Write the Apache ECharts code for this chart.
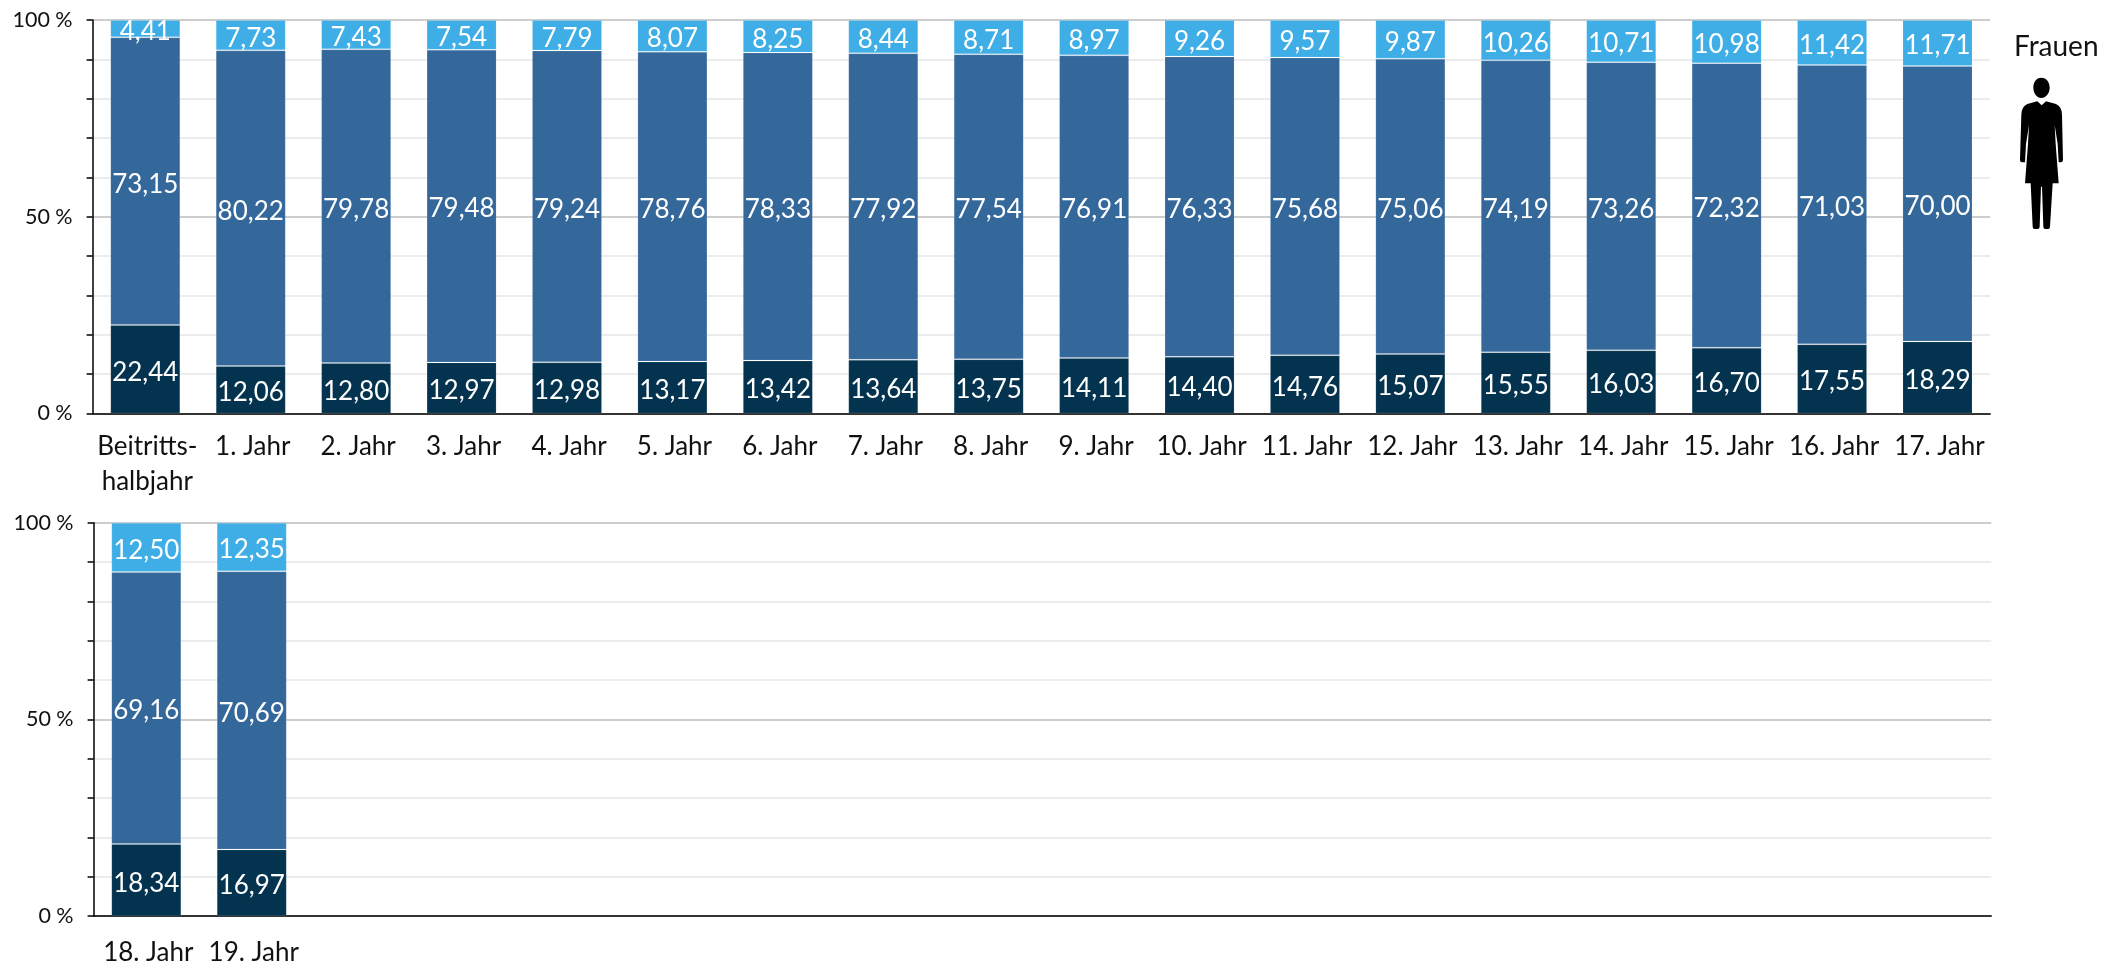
<!DOCTYPE html>
<html><head><meta charset="utf-8">
<style>html,body{margin:0;padding:0;background:#fff}#c{width:2105px;height:964px}</style>
<script src="https://cdn.jsdelivr.net/npm/echarts@6/dist/echarts.min.js"></script>
</head><body><div id="c"></div>
<script>
const categoriesTop = ['Beitritts-\nhalbjahr','1. Jahr','2. Jahr','3. Jahr','4. Jahr','5. Jahr','6. Jahr','7. Jahr','8. Jahr','9. Jahr','10. Jahr','11. Jahr','12. Jahr','13. Jahr','14. Jahr','15. Jahr','16. Jahr','17. Jahr'];
const darkTop = [22.44,12.06,12.80,12.97,12.98,13.17,13.42,13.64,13.75,14.11,14.40,14.76,15.07,15.55,16.03,16.70,17.55,18.29];
const midTop = [73.15,80.22,79.78,79.48,79.24,78.76,78.33,77.92,77.54,76.91,76.33,75.68,75.06,74.19,73.26,72.32,71.03,70.00];
const lightTop = [4.41,7.73,7.43,7.54,7.79,8.07,8.25,8.44,8.71,8.97,9.26,9.57,9.87,10.26,10.71,10.98,11.42,11.71];
const categoriesBottom = ['18. Jahr','19. Jahr','','','','','','','','','','','','','','','',''];
const darkBottom = [18.34,16.97];
const midBottom = [69.16,70.69];
const lightBottom = [12.50,12.35];

const FONT = 'Lato';
const COLORS = ['#04334f','#34689b','#3faee6'];
const figure = 'M424 233C440 233 449 247 449 263C449 280 437 294 424 294C411 294 400 280 400 263C400 247 408 233 424 233Z'+
 'M412 304L425 316L438 304L468 312Q486 320 486 345L489 480Q489 487 482 487L476 487L473 432L464 375L467 432L476 550L458 550L450 680Q450 687 442 687L436 687Q430 687 430 680L426 560L423 560L419 680Q419 687 412 687L404 687Q398 687 398 680L392 550L375 550L384 432L387 375L378 432L375 487L366 487Q360 487 360 480L364 345Q364 320 382 312Z';
echarts.graphic.registerShape('womanFigure', echarts.graphic.extendPath(figure, {}));

const chart = echarts.init(document.getElementById('c'), null, {renderer:'canvas'});

function yAxis(gridIndex){
  return {
    type:'value', gridIndex, min:0, max:100, interval:50,
    axisLine:{show:true,onZero:false,lineStyle:{color:'#000',width:1.5}},
    axisTick:{show:true,length:6,lineStyle:{color:'#000',width:1.5}},
    minorTick:{show:true,splitNumber:5,length:6,lineStyle:{color:'#000',width:1.5}},
    splitLine:{show:true,lineStyle:{color:'#bdbdbd',width:1.5}},
    minorSplitLine:{show:true,lineStyle:{color:'#e6e6e6',width:1.5}},
    axisLabel:{formatter:v=>v+' %',fontFamily:FONT,fontSize:21.5,color:'#111',margin:20}
  };
}
function xAxis(gridIndex,data,margin){
  return {
    type:'category', gridIndex, data,
    axisLine:{lineStyle:{color:'#000',width:1.5}},
    axisTick:{show:false},
    axisLabel:{interval:0,fontFamily:FONT,fontSize:26,lineHeight:35,color:'#111',margin,padding:[0,0,0,4]}
  };
}
function bar(gridIndex,name,data,color,stack){
  return {
    type:'bar', name, data, stack, xAxisIndex:gridIndex, yAxisIndex:gridIndex,
    barWidth:70, z:3,
    itemStyle:{color,borderColor:'rgba(255,255,255,0.1)',borderWidth:1},
    label:{show:true,position:'inside',offset:[0,3],color:'#fff',fontFamily:FONT,fontSize:26,
      formatter:p=>p.value.toFixed(2).replace('.',',')}
  };
}

chart.setOption({
  animation:false,
  backgroundColor:'#fff',
  grid:[
    {left:92.6,width:1897.6,top:20,height:393.4,outerBoundsMode:'none'},
    {left:93.6,width:1897.6,top:522.8,height:393.4,outerBoundsMode:'none'}
  ],
  xAxis:[xAxis(0,categoriesTop,16),xAxis(1,categoriesBottom,19)],
  yAxis:[yAxis(0),yAxis(1)],
  series:[
    bar(0,'dark',darkTop,COLORS[0],'a'),
    bar(0,'mid',midTop,COLORS[1],'a'),
    bar(0,'light',lightTop,COLORS[2],'a'),
    bar(1,'dark',darkBottom,COLORS[0],'b'),
    bar(1,'mid',midBottom,COLORS[1],'b'),
    bar(1,'light',lightBottom,COLORS[2],'b')
  ],
  graphic:[
    {type:'text',x:2014,y:33,style:{text:'Frauen',fontFamily:FONT,fontSize:28,fill:'#111'}},
    {type:'womanFigure',x:1900,y:0,scaleX:1/3,scaleY:1/3,style:{fill:'#000'}}
  ]
});
</script></body></html>
